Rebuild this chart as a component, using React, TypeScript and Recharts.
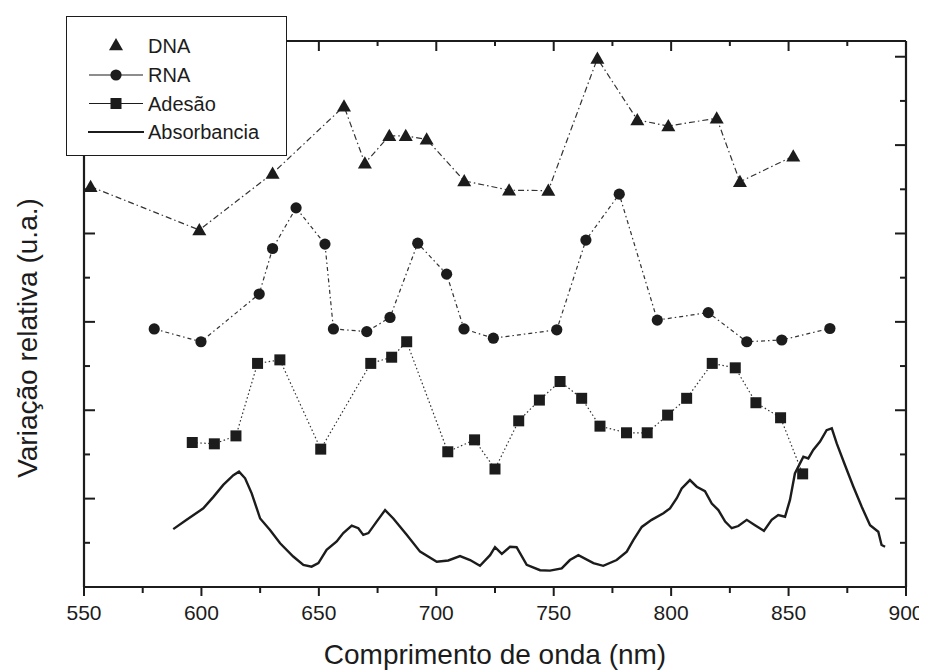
import React from "react";
import {
  ComposedChart,
  Line,
  XAxis,
  YAxis,
  Legend,
} from "recharts";

// wavelength (nm) / relative variation
const dnaX = [552.8, 599.1, 630.3, 660.7, 669.6, 680, 687, 695.9, 711.9, 731, 747.7, 768.6, 785.6, 798.8, 819.4, 829.3, 852];
const dnaY = [9.06, 8.08, 9.36, 10.88, 9.59, 10.21, 10.21, 10.13, 9.19, 8.98, 8.97, 11.96, 10.57, 10.43, 10.61, 9.17, 9.75];

const rnaX = [579.9, 599.8, 624.6, 630.3, 640.3, 652.6, 656.2, 670.4, 680.3, 692.1, 704.4, 711.8, 724.3, 751.3, 763.7, 777.9, 794.1, 815.8, 832.2, 847.1, 867.6];
const rnaY = [5.84, 5.55, 6.63, 7.66, 8.58, 7.76, 5.84, 5.78, 6.1, 7.78, 7.08, 5.84, 5.63, 5.82, 7.85, 8.89, 6.04, 6.21, 5.55, 5.59, 5.85];

const adesaoX = [596.1, 605.5, 614.7, 623.9, 633.4, 650.8, 672.1, 681, 687.4, 704.9, 716.3, 725, 735.1, 743.9, 752.7, 761.9, 769.7, 781, 789.8, 798.5, 806.6, 817.5, 827.3, 836.1, 846.6, 856];
const adesaoY = [3.27, 3.24, 3.42, 5.06, 5.14, 3.12, 5.06, 5.2, 5.55, 3.06, 3.33, 2.67, 3.76, 4.23, 4.65, 4.27, 3.64, 3.49, 3.49, 3.89, 4.27, 5.06, 4.96, 4.17, 3.83, 2.56];

const absX = [588.0, 593.7, 600.8, 605.1, 609.3, 613.6, 616.0, 618.6, 621.4, 625.0, 629.2, 633.5, 639.1, 643.4, 646.9, 649.8, 653.3, 657.6, 660.4, 664.0, 666.8, 668.9, 671.1, 674.6, 678.2, 681.7, 687.4, 693.1, 700.2, 705.1, 710.1, 714.4, 718.6, 722.9, 725.0, 727.9, 731.4, 734.2, 738.5, 744.2, 748.4, 753.4, 756.9, 760.5, 766.9, 771.1, 776.8, 781.1, 783.9, 787.5, 791.7, 796.7, 799.5, 802.4, 804.5, 808.0, 810.9, 814.4, 817.3, 820.1, 823.0, 825.8, 828.6, 832.2, 835.7, 839.5, 842.8, 845.6, 848.5, 850.6, 852.7, 856.3, 858.4, 860.5, 863.4, 866.2, 868.4, 870.5, 874.0, 877.6, 881.1, 884.7, 888.2, 889.6, 891.1];
const absY = [1.31, 1.52, 1.78, 2.04, 2.31, 2.53, 2.61, 2.46, 2.12, 1.55, 1.29, 0.99, 0.69, 0.5, 0.46, 0.54, 0.84, 1.03, 1.22, 1.39, 1.33, 1.18, 1.22, 1.48, 1.74, 1.55, 1.18, 0.8, 0.57, 0.6, 0.7, 0.61, 0.48, 0.72, 0.9, 0.75, 0.91, 0.9, 0.5, 0.38, 0.37, 0.42, 0.61, 0.72, 0.54, 0.48, 0.61, 0.8, 1.06, 1.36, 1.52, 1.67, 1.78, 2.01, 2.23, 2.42, 2.27, 2.17, 1.89, 1.74, 1.48, 1.33, 1.38, 1.52, 1.4, 1.27, 1.52, 1.63, 1.59, 1.97, 2.57, 2.95, 2.91, 3.1, 3.29, 3.55, 3.59, 3.25, 2.76, 2.27, 1.82, 1.4, 1.25, 0.95, 0.91];

const xTicks = [550, 575, 600, 625, 650, 675, 700, 725, 750, 775, 800, 825, 850, 875, 900];
const yTicks = [1, 2, 3, 4, 5, 6, 7, 8, 9, 10, 11, 12];

const seriesNames = ["DNA", "RNA", "Adesão", "Absorbancia"];

const toPoints = (xs: number[], ys: number[]) => xs.map((x, i) => ({ x, y: ys[i] }));
const dnaData = toPoints(dnaX, dnaY);
const rnaData = toPoints(rnaX, rnaY);
const adesaoData = toPoints(adesaoX, adesaoY);
const absData = toPoints(absX, absY);

const FONT = "'Liberation Sans', Arial, Helvetica, sans-serif";
const INK = "#1c1c1c";

const isMajorX = (v: number) => (v - 550) % 50 === 0;
const isMajorY = (v: number) => v % 2 === 0;

const BottomTick = ({ x, y, payload }: any) => {
  const major = isMajorX(payload.value);
  return (
    <g>
      <line x1={x} y1={y} x2={x} y2={y + (major ? 9 : 6)} stroke={INK} strokeWidth={2} />
      {major && (
        <text x={x} y={y + 33} textAnchor="middle" fontSize={21} fill={INK} fontFamily={FONT}>
          {payload.value}
        </text>
      )}
    </g>
  );
};

const TopTick = ({ x, y, payload }: any) => (
  <line x1={x} y1={y} x2={x} y2={y + (isMajorX(payload.value) ? 10 : 5)} stroke={INK} strokeWidth={2} />
);

const LeftTick = ({ x, y, payload }: any) => (
  <line x1={x} y1={y} x2={x + (isMajorY(payload.value) ? 11 : 6)} y2={y} stroke={INK} strokeWidth={2} />
);

const RightTick = ({ x, y, payload }: any) => (
  <line x1={x} y1={y} x2={x - (isMajorY(payload.value) ? 11 : 6)} y2={y} stroke={INK} strokeWidth={2} />
);

const triangle = (cx: number, cy: number, s = 7) =>
  `${cx},${cy - s} ${cx - s},${cy + s * 0.75} ${cx + s},${cy + s * 0.75}`;

const TriangleDot = ({ cx, cy, index }: any) => (
  <polygon key={`t${index}`} points={triangle(cx, cy)} fill={INK} />
);
const CircleDot = ({ cx, cy, index }: any) => (
  <circle key={`c${index}`} cx={cx} cy={cy} r={5.6} fill={INK} />
);
const SquareDot = ({ cx, cy, index }: any) => (
  <rect key={`s${index}`} x={cx - 5.5} y={cy - 5.5} width={11} height={11} fill={INK} />
);

function LegendBox() {
  const rows = [29, 58, 86.5, 115];
  return (
    <div
      style={{
        width: 221,
        height: 140,
        boxSizing: "border-box",
        border: `1.5px solid ${INK}`,
        background: "#fff",
      }}
    >
      <svg width={218} height={137} style={{ display: "block" }}>
        <polygon points={triangle(49, rows[0] - 1)} fill={INK} />
        <line x1={22} y1={rows[1]} x2={76} y2={rows[1]} stroke={INK} strokeWidth={1.2} />
        <circle cx={49} cy={rows[1]} r={5.6} fill={INK} />
        <line x1={22} y1={rows[2]} x2={76} y2={rows[2]} stroke={INK} strokeWidth={1.2} />
        <rect x={43.5} y={rows[2] - 5.5} width={11} height={11} fill={INK} />
        <line x1={21} y1={rows[3]} x2={77} y2={rows[3]} stroke={INK} strokeWidth={2.2} />
        {seriesNames.map((name, i) => (
          <text key={name} x={81} y={rows[i] + 7} fontSize={20} fill={INK} fontFamily={FONT}>
            {name}
          </text>
        ))}
      </svg>
    </div>
  );
}

export default function App() {
  return (
    <div style={{ width: 919, height: 663, fontFamily: FONT }}>
      <ComposedChart width={919} height={663} margin={{ top: 32, right: 20, bottom: 0, left: 0 }}>
        <XAxis
          xAxisId="bottom"
          dataKey="x"
          type="number"
          domain={[550, 900]}
          ticks={xTicks}
          interval={0}
          height={84}
          tickSize={0}
          tickMargin={0}
          tickLine={false}
          tick={<BottomTick />}
          axisLine={{ stroke: INK, strokeWidth: 2.2 }}
          allowDataOverflow
          label={{
            content: ({ viewBox }: any) => (
              <text
                x={viewBox.x + viewBox.width / 2}
                y={viewBox.y + 77}
                textAnchor="middle"
                fontSize={28}
                fill={INK}
                fontFamily={FONT}
              >
                Comprimento de onda (nm)
              </text>
            ),
          }}
        />
        <XAxis
          xAxisId="top"
          orientation="top"
          dataKey="x"
          type="number"
          domain={[550, 900]}
          ticks={xTicks}
          interval={0}
          height={1}
          tickSize={0}
          tickMargin={0}
          tickLine={false}
          tick={<TopTick />}
          axisLine={{ stroke: INK, strokeWidth: 2.2 }}
          allowDataOverflow
        />
        <YAxis
          yAxisId="left"
          type="number"
          domain={[0, 12.356]}
          ticks={yTicks}
          interval={0}
          width={76}
          tickSize={0}
          tickMargin={0}
          tickLine={false}
          tick={<LeftTick />}
          axisLine={{ stroke: INK, strokeWidth: 2.2 }}
          allowDataOverflow
          label={{
            content: () => (
              <text
                x={29}
                y={330}
                transform="rotate(-90, 29, 330)"
                textAnchor="middle"
                fontSize={28}
                fill={INK}
                fontFamily={FONT}
              >
                Variação relativa (u.a.)
              </text>
            ),
          }}
        />
        <YAxis
          yAxisId="right"
          orientation="right"
          type="number"
          domain={[0, 12.356]}
          ticks={yTicks}
          interval={0}
          width={1}
          tickSize={0}
          tickMargin={0}
          tickLine={false}
          tick={<RightTick />}
          axisLine={{ stroke: INK, strokeWidth: 2.2 }}
          allowDataOverflow
        />
        <Legend
          layout="horizontal"
          verticalAlign="middle"
          content={() => <LegendBox />}
          wrapperStyle={{ left: 58, top: 8, width: 221, height: 140 }}
        />
        <Line
          xAxisId="bottom"
          yAxisId="left"
          data={absData}
          dataKey="y"
          name="Absorbancia"
          type="linear"
          stroke={INK}
          strokeWidth={2.4}
          dot={false}
          activeDot={false}
          isAnimationActive={false}
        />
        <Line
          xAxisId="bottom"
          yAxisId="left"
          data={adesaoData}
          dataKey="y"
          name="Adesão"
          type="linear"
          stroke="#333"
          strokeWidth={1.2}
          strokeDasharray="1.5 2.5"
          dot={SquareDot}
          activeDot={false}
          isAnimationActive={false}
        />
        <Line
          xAxisId="bottom"
          yAxisId="left"
          data={rnaData}
          dataKey="y"
          name="RNA"
          type="linear"
          stroke="#333"
          strokeWidth={1.2}
          strokeDasharray="4 3 1.5 3"
          dot={CircleDot}
          activeDot={false}
          isAnimationActive={false}
        />
        <Line
          xAxisId="bottom"
          yAxisId="left"
          data={dnaData}
          dataKey="y"
          name="DNA"
          type="linear"
          stroke="#333"
          strokeWidth={1.2}
          strokeDasharray="6 3 1.5 3"
          dot={TriangleDot}
          activeDot={false}
          isAnimationActive={false}
        />
      </ComposedChart>
    </div>
  );
}
